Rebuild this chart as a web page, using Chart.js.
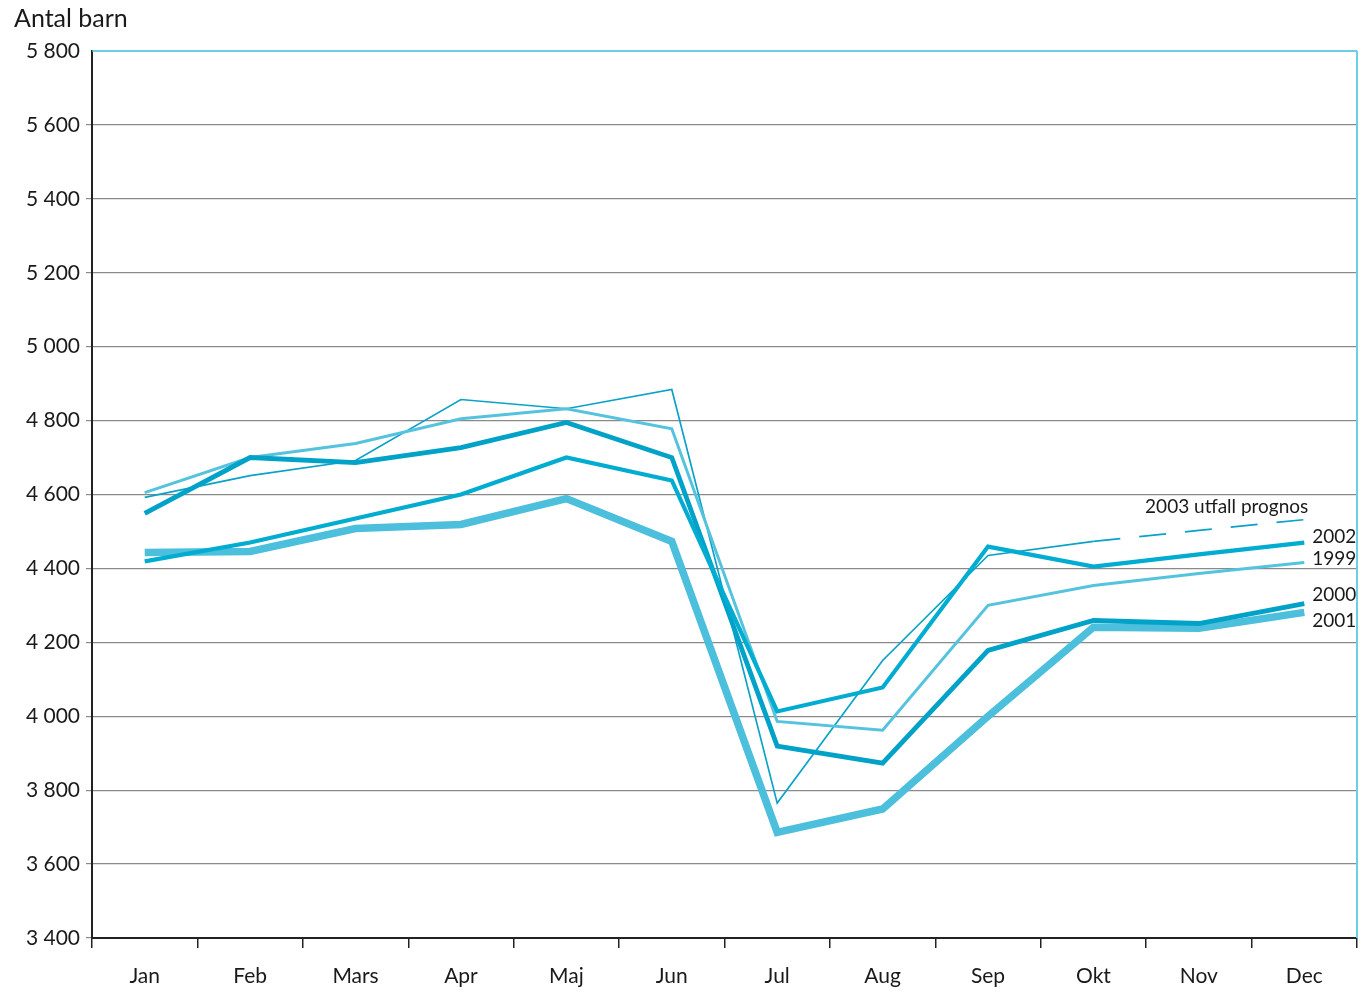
<!DOCTYPE html>
<html>
<head>
<meta charset="utf-8">
<script src="https://cdn.jsdelivr.net/npm/chart.js@4"></script>
<style>
  html, body { margin: 0; padding: 0; background: #fff; }
  #wrap { width: 1368px; height: 1000px; }
</style>
</head>
<body>
<div id="wrap"><canvas id="chart" width="1368" height="1000"></canvas></div>
<script>
const months = ["Jan", "Feb", "Mars", "Apr", "Maj", "Jun", "Jul", "Aug", "Sep", "Okt", "Nov", "Dec"];

const y1999 = [4605, 4700, 4738, 4805, 4832, 4778, 3986, 3962, 4300, 4354, 4386, 4416];
const y2000 = [4549, 4700, 4686, 4727, 4795, 4700, 3919, 3873, 4178, 4259, 4251, 4305];
const y2001 = [4443, 4446, 4508, 4519, 4589, 4473, 3686, 3749, 4000, 4241, 4238, 4281];
const y2002 = [4419, 4470, 4535, 4600, 4700, 4638, 4013, 4078, 4459, 4405, 4438, 4470];
// 2003: utfall Jan-Okt, prognos Nov-Dec (dashed)
const y2003 = [4592, 4651, 4692, 4857, 4832, 4884, 3765, 4151, 4435, 4473, 4503, 4532];
const lastActual2003 = 9;

const yMin = 3400, yMax = 5800, yStep = 200;

const FONT = "Lato, 'Open Sans', sans-serif";

// text labels next to the right end of each line
const endLabels = [
  { text: "2003 utfall prognos", ds: 4, dy: -13, align: "right", dx: 4 },
  { text: "2002", ds: 3, dy: -6, align: "left", dx: 8 },
  { text: "1999", ds: 0, dy: -4, align: "left", dx: 8 },
  { text: "2000", ds: 1, dy: -9, align: "left", dx: 8 },
  { text: "2001", ds: 2, dy: 8, align: "left", dx: 8 }
];

const extras = {
  id: "extras",
  afterDraw(chart) {
    const ctx = chart.ctx;
    const a = chart.chartArea;
    ctx.save();
    // top and right frame in cyan
    ctx.strokeStyle = "#3dbcdc";
    ctx.lineWidth = 1.5;
    ctx.beginPath();
    ctx.moveTo(a.left, a.top);
    ctx.lineTo(a.right, a.top);
    ctx.stroke();
    ctx.strokeStyle = "#6cd0e4";
    ctx.lineWidth = 2;
    ctx.beginPath();
    ctx.moveTo(a.right, a.top);
    ctx.lineTo(a.right, a.bottom);
    ctx.stroke();

    // axis title
    ctx.fillStyle = "#1a1a1a";
    ctx.font = "25px " + FONT;
    ctx.textBaseline = "middle";
    ctx.textAlign = "left";
    ctx.fillText("Antal barn", 14, 19);

    // end labels
    ctx.font = "19px " + FONT;
    const xs = chart.scales.x, ys = chart.scales.y;
    endLabels.forEach(l => {
      const data = chart.data.datasets[l.ds].data;
      const last = data.length - 1;
      const x = xs.getPixelForValue(last);
      const y = ys.getPixelForValue(data[last]);
      ctx.textAlign = l.align;
      ctx.fillText(l.text, x + l.dx, y + l.dy);
    });
    ctx.restore();
  }
};

new Chart(document.getElementById("chart"), {
  type: "line",
  data: {
    labels: months,
    datasets: [
      { label: "1999", data: y1999, borderColor: "#55c3de", borderWidth: 3, order: 3 },
      { label: "2000", data: y2000, borderColor: "#00a2c8", borderWidth: 4.8, order: 2 },
      { label: "2001", data: y2001, borderColor: "#4bbfdb", borderWidth: 7.5, order: 5 },
      { label: "2002", data: y2002, borderColor: "#00acd0", borderWidth: 4.2, order: 1 },
      {
        label: "2003", data: y2003, borderColor: "#0aa2c8", borderWidth: 1.7, order: 4,
        segment: { borderDash: c => c.p0DataIndex >= lastActual2003 ? [27, 19] : undefined }
      }
    ]
  },
  options: {
    responsive: false,
    animation: false,
    devicePixelRatio: 1,
    layout: { padding: { top: 51, right: 11, left: 0, bottom: 0 } },
    elements: {
      point: { radius: 0, hoverRadius: 0 },
      line: { tension: 0, borderCapStyle: "butt", borderJoinStyle: "miter" }
    },
    plugins: { legend: { display: false }, tooltip: { enabled: false } },
    scales: {
      x: {
        offset: true,
        grid: { offset: true, drawOnChartArea: false, drawTicks: true, tickLength: 10, color: "#222", lineWidth: 1.5 },
        border: { color: "#222", width: 2 },
        ticks: { color: "#1a1a1a", font: { family: FONT, size: 21 }, padding: 16, maxRotation: 0 },
        afterFit(s) { s.height = 62; }
      },
      y: {
        min: yMin, max: yMax,
        grid: {
          color: c => c.tick && c.tick.value === yMax ? "rgba(0,0,0,0)" : "#8a8a8a",
          lineWidth: 1.2, tickLength: 6, drawTicks: true
        },
        border: { color: "#222", width: 2 },
        ticks: {
          stepSize: yStep, padding: 6, color: "#1a1a1a",
          font: { family: FONT, size: 21 },
          callback: v => String(v).replace(/\B(?=(\d{3})+(?!\d))/g, " ")
        },
        afterFit(s) { s.width = 92; }
      }
    }
  },
  plugins: [extras]
});
</script>
</body>
</html>
